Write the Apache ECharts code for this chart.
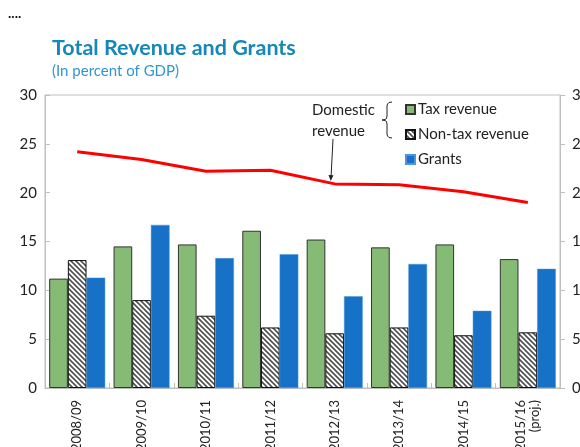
<!DOCTYPE html>
<html>
<head>
<meta charset="utf-8">
<script src="https://cdn.jsdelivr.net/npm/echarts@6/dist/echarts.min.js"></script>
<style>
  html, body { margin: 0; padding: 0; background: #fff; }
  #chart { width: 580px; height: 447px; }
</style>
</head>
<body>
<div id="chart"></div>
<script>
const years = ['2008/09', '2009/10', '2010/11', '2011/12', '2012/13', '2013/14', '2014/15', '2015/16\n(proj.)'];
const taxRevenue = [11.2, 14.5, 14.7, 16.1, 15.2, 14.4, 14.7, 13.2];
const nonTaxRevenue = [13.1, 9.0, 7.4, 6.2, 5.6, 6.2, 5.4, 5.7];
const grants = [11.3, 16.7, 13.3, 13.7, 9.4, 12.7, 7.9, 12.2];
const domesticRevenue = [24.2, 23.4, 22.2, 22.3, 20.9, 20.8, 20.1, 19.0];
const yTicks = [0, 5, 10, 15, 20, 25, 30];

const font = 'Lato, "Open Sans", sans-serif';
const axisGray = '#bfbfbf';

// diagonal hatch for the non-tax bars
function hatch() {
    const c = document.createElement('canvas');
    c.width = 5; c.height = 5;
    const ctx = c.getContext('2d');
    ctx.fillStyle = '#fff';
    ctx.fillRect(0, 0, 5, 5);
    ctx.strokeStyle = '#505050';
    ctx.lineWidth = 1.6;
    ctx.beginPath();
    ctx.moveTo(-1, -1); ctx.lineTo(6, 6);
    ctx.moveTo(4, -1); ctx.lineTo(6, 1);
    ctx.moveTo(-1, 4); ctx.lineTo(1, 6);
    ctx.stroke();
    return { image: c, repeat: 'repeat' };
}

const yAxisBase = {
    type: 'value',
    min: yTicks[0],
    max: yTicks[yTicks.length - 1],
    interval: 5,
    splitLine: { show: false },
    axisLine: { show: true, lineStyle: { color: axisGray } },
    axisTick: { show: true, length: 5, lineStyle: { color: axisGray } },
    axisLabel: { color: '#222', fontFamily: font, fontSize: 15 }
};

// curly bracket joining tax and non-tax in the legend
const brace = [[392, 102], [389, 102.5], [387.5, 104], [387, 106], [387, 116], [386.5, 118.5], [385, 119.5], [382, 120],
    [385, 120.5], [386.5, 121.5], [387, 124], [387, 134], [387.5, 136], [389, 137.5], [392, 138]];

const chart = echarts.init(document.getElementById('chart'));
chart.setOption({
    animation: false,
    title: [{
        text: 'Total Revenue and Grants',
        left: 52, top: 37, padding: 0,
        textStyle: { color: '#1587b9', fontFamily: font, fontWeight: 'bold', fontSize: 21.5 }
    }, {
        text: '(In percent of GDP)',
        left: 52, top: 64, padding: 0,
        textStyle: { color: '#2f97cc', fontFamily: font, fontWeight: 'normal', fontSize: 15 }
    }, {
        text: '....',
        left: 8, top: 6, padding: 0,
        textStyle: { color: '#111', fontFamily: font, fontWeight: 'bold', fontSize: 14 }
    }],
    grid: {
        left: 45, right: 20, top: 95, bottom: 59,
        outerBoundsMode: 'none',
        show: true, borderColor: axisGray, borderWidth: 1
    },
    legend: {
        orient: 'vertical',
        left: 400, top: 97,
        itemWidth: 9, itemHeight: 9,
        itemGap: 10,
        icon: 'rect',
        data: ['Tax revenue', 'Non-tax revenue', 'Grants'],
        textStyle: { color: '#222', fontFamily: font, fontSize: 15, padding: [0, 0, 0, -2] }
    },
    xAxis: {
        type: 'category',
        data: years,
        axisLine: { lineStyle: { color: axisGray } },
        axisTick: { show: true, inside: true, length: 5, lineStyle: { color: axisGray } },
        axisLabel: { rotate: 90, margin: 12, interval: 0, color: '#222', fontFamily: font, fontSize: 13, lineHeight: 14 }
    },
    yAxis: [
        Object.assign({}, yAxisBase, {
            position: 'left',
            axisTick: { show: true, inside: true, length: 5, lineStyle: { color: axisGray } },
            axisLabel: Object.assign({}, yAxisBase.axisLabel, { margin: 8 })
        }),
        Object.assign({}, yAxisBase, {
            position: 'right',
            axisLabel: Object.assign({}, yAxisBase.axisLabel, { margin: 12 })
        })
    ],
    series: [{
        name: 'Tax revenue',
        type: 'bar',
        data: taxRevenue,
        barGap: '0%',
        barCategoryGap: '13%',
        itemStyle: { color: '#85bb74', borderColor: '#333', borderWidth: 1 }
    }, {
        name: 'Non-tax revenue',
        type: 'bar',
        data: nonTaxRevenue,
        itemStyle: { color: hatch(), borderColor: '#111', borderWidth: 1 }
    }, {
        name: 'Grants',
        type: 'bar',
        data: grants,
        itemStyle: { color: '#1671c7', borderColor: '#4a97dd', borderWidth: 0.5 }
    }, {
        name: 'Domestic revenue',
        type: 'line',
        data: domesticRevenue,
        symbol: 'none',
        lineStyle: { color: '#ff0000', width: 3 },
        z: 5
    }],
    graphic: [{
        type: 'text',
        x: 312, y: 100,
        style: { text: 'Domestic\nrevenue', fill: '#222', font: '15px ' + font, lineHeight: 21 }
    }, {
        type: 'polyline',
        shape: { points: brace },
        style: { fill: null, stroke: '#222', lineWidth: 1 }
    }, {
        type: 'line',
        shape: { x1: 333, y1: 139, x2: 331, y2: 178 },
        style: { stroke: '#222', lineWidth: 1 }
    }, {
        type: 'polygon',
        shape: { points: [[328.5, 175], [333.5, 175.3], [330.8, 181]] },
        style: { fill: '#222' }
    }]
});
</script>
</body>
</html>
